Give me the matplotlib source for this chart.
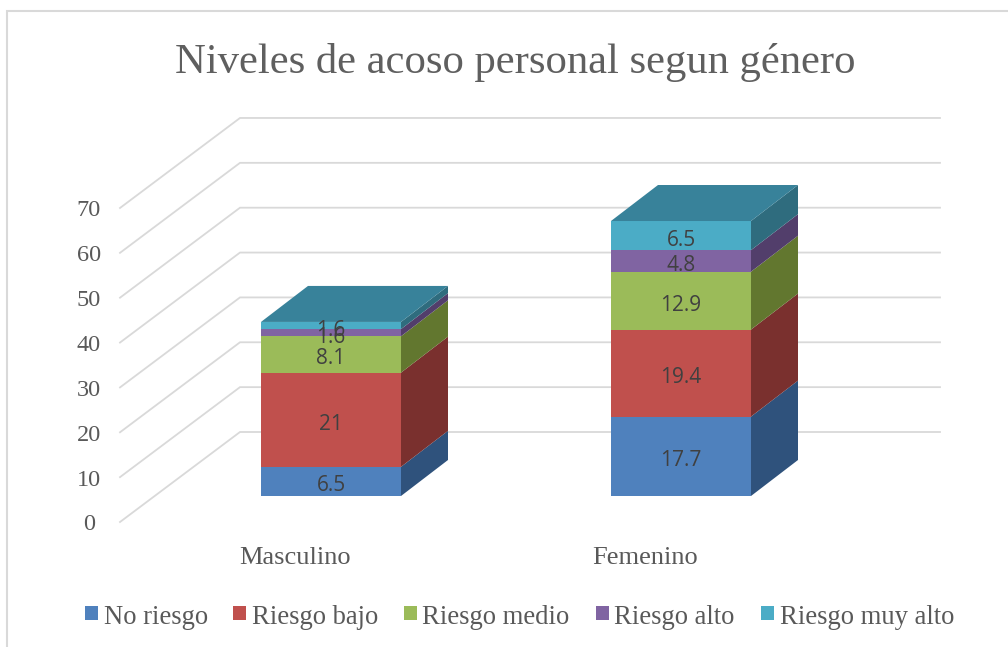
import numpy as np
import matplotlib
matplotlib.use('Agg')
import matplotlib.pyplot as plt
from matplotlib.patches import Polygon, Rectangle

categories = ['Masculino', 'Femenino']
series_names = ['No riesgo', 'Riesgo bajo', 'Riesgo medio', 'Riesgo alto', 'Riesgo muy alto']
no_riesgo = [6.5, 17.7]
riesgo_bajo = [21, 19.4]
riesgo_medio = [8.1, 12.9]
riesgo_alto = [1.6, 4.8]
riesgo_muy_alto = [1.6, 6.5]
y_ticks = [0, 10, 20, 30, 40, 50, 60, 70]

colors = ['#4f81bd', '#c0504d', '#9bbb59', '#8064a2', '#4bacc6']
side_colors = ['#2f527c', '#7a302e', '#62772f', '#523e6b', '#2f6c7e']
top_color = '#38829a'

W, H = 1008, 647
PX_PER_UNIT = 4.486  # vertical pixels for one unit of value
BASE_PX = 496        # bar base, pixel row
DX, DY = 47, 36 / PX_PER_UNIT  # bar depth
bar_left = [261, 611]
bar_w = 140

serif = 'Liberation Serif'
text_gray = '#595959'

fig = plt.figure(figsize=(W / 100, H / 100), dpi=100)
ax = fig.add_axes([0, 0, 1, 1])
ax.set_xlim(0, W)
ax.set_ylim((BASE_PX - H) / PX_PER_UNIT, BASE_PX / PX_PER_UNIT)
ax.axis('off')


def val_to_row(row):
    return (BASE_PX - row) / PX_PER_UNIT


# outer frame of the chart (cropped right and bottom)
ax.plot([7, 7, W], [val_to_row(647), val_to_row(11), val_to_row(11)],
        color='#d9d9d9', lw=1.5, zorder=1, solid_joinstyle='miter')

# gridlines on the side wall and back wall
y0_front = val_to_row(522)
wall_dy = 90 / PX_PER_UNIT
for t in y_ticks:
    y = y0_front + t
    ax.plot([120, 240, 940], [y, y + wall_dy, y + wall_dy], color='#d9d9d9', lw=1.3, zorder=1,
            solid_joinstyle='miter')
    ax.text(89, val_to_row(522 - 4.486 * t + 0.5), str(t), ha='center', va='center_baseline',
            family=serif, fontsize=17.5, color=text_gray)

# stacked bars
stack = np.array([no_riesgo, riesgo_bajo, riesgo_medio, riesgo_alto, riesgo_muy_alto])
for c, left in enumerate(bar_left):
    bottom = 0
    for s in range(len(series_names)):
        v = stack[s][c]
        ax.add_patch(Rectangle((left, bottom), bar_w, v, fc=colors[s], ec='none', zorder=3))
        right = left + bar_w
        ax.add_patch(Polygon([(right, bottom), (right + DX, bottom + DY),
                              (right + DX, bottom + v + DY), (right, bottom + v)],
                             fc=side_colors[s], ec='none', zorder=3))
        ax.text(left + bar_w / 2, bottom + v / 2 - 4.5 / PX_PER_UNIT, f'{v:g}', ha='center', va='center',
                family='Open Sans', fontsize=15, color='#404040', zorder=5)
        bottom += v
    ax.add_patch(Polygon([(left, bottom), (left + DX, bottom + DY), (left + bar_w + DX, bottom + DY),
                          (left + bar_w, bottom)], fc=top_color, ec='none', zorder=3))

# category labels
for name, x in zip(categories, [295, 645]):
    ax.text(x, val_to_row(556), name, ha='center', va='center_baseline', family=serif,
            fontsize=19, color=text_gray)

ax.text(515, val_to_row(57.5), 'Niveles de acoso personal segun género', ha='center', va='center_baseline',
        family=serif, fontsize=30.7, color='#5f5f5f')

# legend
legend_x = [85, 233, 404, 596, 761]
for name, col, x in zip(series_names, colors, legend_x):
    ax.add_patch(Rectangle((x, val_to_row(620)), 13, 14 / PX_PER_UNIT, fc=col, ec='none'))
    ax.text(x + 18.5, val_to_row(614), name, ha='left', va='center_baseline', family=serif,
            fontsize=19.2, color=text_gray)

fig.savefig('out.png', dpi=100)
